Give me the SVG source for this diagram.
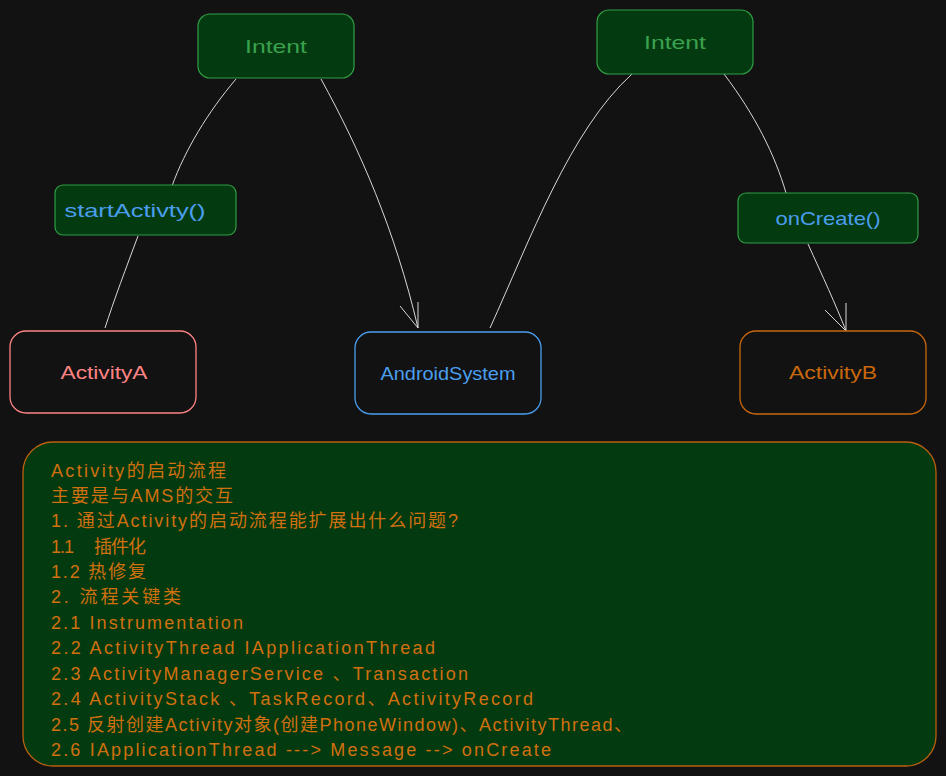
<svg xmlns="http://www.w3.org/2000/svg" width="946" height="776" viewBox="0 0 946 776">
<style>
.bg{fill:#121212}
.gbox{fill:#043a10;stroke:#2f9e44;stroke-width:1.2}
.lbl{font-family:"Liberation Sans","Noto Sans CJK SC",sans-serif;font-size:19px;text-anchor:middle;dominant-baseline:central}
.green{fill:#3aa24e}
.blue{fill:#4a9eed}
.conn{fill:none;stroke:#d8d8d8;stroke-width:1}
.note{font-family:"Liberation Sans","Noto Sans CJK SC",sans-serif;font-size:18px;fill:#d0700f}
</style>
<rect class="bg" x="0" y="0" width="946" height="776"/>
<g id="connectors">
<path class="conn" d="M236,79 C208,112 185,150 172,186 M138,236 C126,268 114,300 105,328"/>
<path class="conn" d="M321,79 C360,150 395,230 418,328"/>
<path class="conn" d="M400,306 L418,328 L418,302"/>
<path class="conn" d="M490,328 C530,240 570,130 632,74"/>
<path class="conn" d="M724,74 C755,115 775,155 786,193 M808,244 C822,275 836,305 846,331"/>
<path class="conn" d="M825,310 L846,331 L846,303"/>
</g>
<g id="intent1">
<rect class="gbox" x="198" y="14" width="156" height="64" rx="12"/>
<text class="lbl green" x="276" y="46" textLength="62" lengthAdjust="spacingAndGlyphs">Intent</text>
</g>
<g id="intent2">
<rect class="gbox" x="597" y="10" width="156" height="64" rx="12"/>
<text class="lbl green" x="675" y="42" textLength="62" lengthAdjust="spacingAndGlyphs">Intent</text>
</g>
<g id="startActivty">
<rect class="gbox" x="55" y="185" width="181" height="50" rx="8"/>
<text class="lbl blue" x="135" y="210" textLength="141" lengthAdjust="spacingAndGlyphs">startActivty()</text>
</g>
<g id="onCreate">
<rect class="gbox" x="738" y="193" width="180" height="50" rx="8"/>
<text class="lbl blue" x="828" y="218" textLength="105" lengthAdjust="spacingAndGlyphs">onCreate()</text>
</g>
<g id="activityA">
<rect x="10" y="331" width="186" height="82" rx="16" fill="none" stroke="#ff8383" stroke-width="1.3"/>
<text class="lbl" x="104" y="372" fill="#ff8383" textLength="87" lengthAdjust="spacingAndGlyphs">ActivityA</text>
</g>
<g id="androidSystem">
<rect x="355" y="332" width="186" height="82" rx="16" fill="none" stroke="#4a9eed" stroke-width="1.3"/>
<text class="lbl blue" x="448" y="373" textLength="135" lengthAdjust="spacingAndGlyphs">AndroidSystem</text>
</g>
<g id="activityB">
<rect x="740" y="331" width="186" height="83" rx="16" fill="none" stroke="#c8680c" stroke-width="1.3"/>
<text class="lbl" x="833" y="372" fill="#c8680c" textLength="88" lengthAdjust="spacingAndGlyphs">ActivityB</text>
</g>
<g id="notes">
<rect x="23" y="442" width="913" height="324" rx="30" fill="#043a10" stroke="#b8600e" stroke-width="1.3"/>
<text class="note" x="51" y="477" textLength="175">Activity的启动流程</text>
<text class="note" x="51" y="502" textLength="182">主要是与AMS的交互</text>
<text class="note" x="51" y="527" textLength="407">1. 通过Activity的启动流程能扩展出什么问题?</text>
<text class="note" x="51" y="553" textLength="95">1.1 　插件化</text>
<text class="note" x="51" y="578" textLength="95">1.2 热修复</text>
<text class="note" x="51" y="603" textLength="130">2. 流程关键类</text>
<text class="note" x="51" y="629" textLength="192">2.1 Instrumentation</text>
<text class="note" x="51" y="654" textLength="384">2.2 ActivityThread IApplicationThread</text>
<text class="note" x="51" y="680" textLength="417">2.3 ActivityManagerService 、Transaction</text>
<text class="note" x="51" y="705" textLength="482">2.4 ActivityStack 、TaskRecord、ActivityRecord</text>
<text class="note" x="51" y="731" textLength="581">2.5 反射创建Activity对象(创建PhoneWindow)、ActivityThread、</text>
<text class="note" x="51" y="756" textLength="500">2.6 IApplicationThread ---&gt; Message --&gt; onCreate</text>
</g>
</svg>
